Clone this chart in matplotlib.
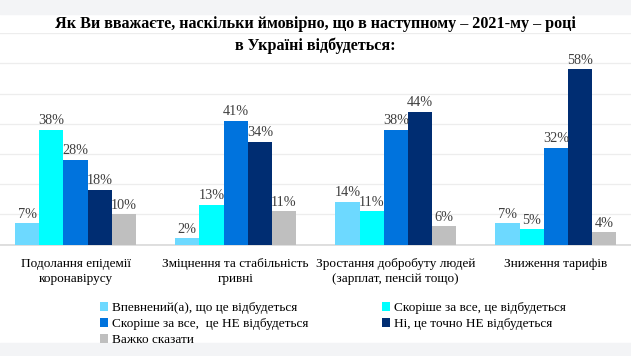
import matplotlib
matplotlib.use("Agg")
import matplotlib.pyplot as plt
import numpy as np
from matplotlib.patches import Rectangle

categories = ["Подолання епідемії\nкоронавірусу",
              "Зміцнення та стабільність\nгривні",
              "Зростання добробуту людей\n(зарплат, пенсій тощо)",
              "Зниження тарифів"]
series_names = ["Впевнений(а), що це відбудеться",
                "Скоріше за все, це відбудеться",
                "Скоріше за все,  це НЕ відбудеться",
                "Ні, це точно НЕ відбудеться",
                "Важко сказати"]
sure_yes = [7, 2, 14, 7]
likely_yes = [38, 13, 11, 5]
likely_no = [28, 41, 38, 32]
sure_no = [18, 34, 44, 58]
hard_to_say = [10, 11, 6, 4]
values = [sure_yes, likely_yes, likely_no, sure_no, hard_to_say]
colors = ["#6DD9FF", "#00FFFF", "#0073DD", "#002D72", "#BFBFBF"]
title_lines = ["Як Ви вважаєте, наскільки ймовірно, що в наступному – 2021-му – році",
               "в Україні відбудеться:"]

plt.rcParams['font.family'] = ['Liberation Serif', 'DejaVu Serif']

W, H = 631, 356
fig = plt.figure(figsize=(W/100, H/100), dpi=100)
fig.patches.append(Rectangle((0, 1-14/H), 1, 14/H, transform=fig.transFigure,
                             color="#F3F4F6", zorder=0))
fig.patches.append(Rectangle((0, 0), 1, 13/H, transform=fig.transFigure,
                             color="#F3F4F6", zorder=0))

ax = fig.add_axes([-4.5/W, 111.5/H, 640.5/W, 211.3/H])
n = len(categories)
x = np.arange(n)
bw = 0.151
for i, (vals, c) in enumerate(zip(values, colors)):
    pos = x + (i - 2) * bw
    ax.bar(pos, vals, width=bw, color=c, label=series_names[i], zorder=3)
    for p, v in zip(pos, vals):
        ax.annotate(f"{v}%", (p, v), xytext=(0, 2), textcoords="offset points",
                    ha="center", va="bottom", fontsize=10.3, color="#404040",
                    zorder=5)

ax.set_xlim(-0.5, n - 0.5)
ax.set_ylim(0, 70)
ax.set_yticks(range(0, 71, 10))
ax.yaxis.grid(True, color="#EDEDED", linewidth=0.9, zorder=0)
ax.set_axisbelow(True)
ax.tick_params(axis='y', left=False, labelleft=False)
ax.tick_params(axis='x', bottom=False, pad=6)
ax.set_xticks(x)
ax.set_xticklabels(categories, fontsize=9.5, color="#000000", linespacing=1.35)
for s in ["top", "right", "left"]:
    ax.spines[s].set_visible(False)
ax.spines["bottom"].set_color("#D9D9D9")
ax.spines["bottom"].set_linewidth(1.2)

fig.text(0.5, 1-28.3/H, title_lines[0], ha="center", va="baseline", fontsize=11.6,
         fontweight="bold")
fig.text(0.5, 1-50/H, title_lines[1], ha="center", va="baseline", fontsize=11.6,
         fontweight="bold")

h, l = ax.get_legend_handles_labels()
order = [0, 2, 4, 1, 3]
fig.legend([h[i] for i in order], [l[i] for i in order], ncol=2,
           loc="upper left", bbox_to_anchor=(95/W, 1-297/H), frameon=False,
           fontsize=9.5, handlelength=0.6, handleheight=0.6, handletextpad=0.3,
           columnspacing=5.6, labelspacing=0.3, borderaxespad=0)

fig.savefig("out.png", dpi=100)
